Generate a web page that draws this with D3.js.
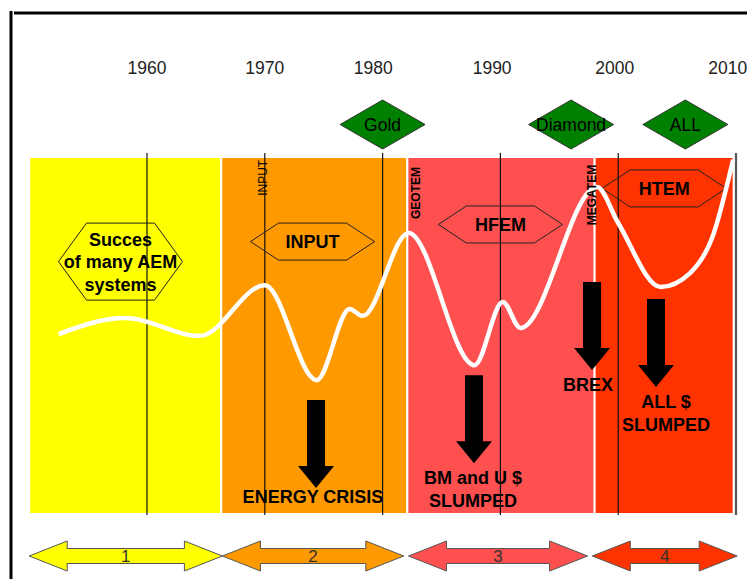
<!DOCTYPE html>
<html>
<head>
<meta charset="utf-8">
<script src="https://cdn.jsdelivr.net/npm/d3@7/dist/d3.min.js"></script>
<style>
  html, body { margin: 0; padding: 0; background: #fff; }
  svg { display: block; font-family: "Liberation Sans", Arial, sans-serif; }
</style>
</head>
<body>
<svg id="chart" width="747" height="579"></svg>
<script>
// ---------- DATA ----------
const decadeYears = [1960, 1970, 1980, 1990, 2000, 2010];
const tickLabels = ["1960", "1970", "1980", "1990", "2000", "2010"];
// where each year label sits on the time axis
const tickLabelYears = [1960.0, 1970.0, 1979.2, 1989.3, 1999.7, 2009.3];

// eras (background bands) : start / end years
const eraStarts = [1950, 1966.3, 1982.1, 1998.0];
const eraEnds   = [1966.3, 1982.1, 1998.0, 2009.8];
const eraColors = ["#FFFF00", "#FF9900", "#FF5050", "#FF3300"];

// bottom double arrows (eras)
const eraLabels = ["1", "2", "3", "4"];
const eraArrowStarts = [1950.0, 1966.4, 1982.2, 1997.8];
const eraArrowEnds   = [1966.4, 1981.8, 1997.4, 2010.1];

// activity curve (year, relative activity 0..100)
const curveYears  = [1952.5, 1958.1, 1964.5, 1970.0, 1974.4, 1977.2, 1978.3, 1982.2, 1987.8, 1990.2, 1991.7, 1998.2, 2000.0, 2003.6, 2006.1, 2008.0, 2009.75];
const curveValues = [50.4,   54.9,   49.9,   64.1,   37.5,   57.4,   55.5,   78.7,   41.7,   59.4,   52.1,   91.6,   81.5,   63.6,   67.5,   77.6,   99.2];

// commodity diamonds
const commodityNames = ["Gold", "Diamond", "ALL"];
const commodityYears = [1980.0, 1996.0, 2005.7];

// technology hexagons
const techLabels = [["Succes", "of many AEM", "systems"], ["INPUT"], ["HFEM"], ["HTEM"]];
const techYears  = [1957.75, 1974.05, 1990.0, 2003.9];
const techValues = [70.7, 76.3, 81.1, 91.2];

// system names (vertical)
const systemNames  = ["INPUT", "GEOTEM", "MEGATEM"];
const systemYears  = [1970.2, 1983.17, 1998.12];
const systemTops   = [99.2, 97.2, 97.8];
const systemBold   = [false, true, true];

// downturn arrows
const slumpYears = [1974.35, 1987.76, 1997.78, 2003.21];
const slumpTops  = [31.9, 38.9, 65.0, 60.2];
const slumpTexts = [["ENERGY CRISIS"], ["BM and U $", "SLUMPED"], ["BREX"], ["ALL $", "SLUMPED"]];
const slumpTextYears  = [1974.09, 1987.67, 1997.44, 2004.06];
const slumpTextValues = [4.8, 10.1, 36.4, 31.4];

// ---------- SCALES ----------
const svg = d3.select("#chart");
const x = d3.scaleLinear().domain([1960, 2010]).range([147, 736]);
const y = d3.scaleLinear().domain([0, 100]).range([514, 157]);

// ---------- FRAME ----------
svg.append("line").attr("x1", 11).attr("x2", 11).attr("y1", 11).attr("y2", 579)
  .attr("stroke", "#000").attr("stroke-width", 3);
svg.append("line").attr("x1", 14).attr("x2", 747).attr("y1", 13).attr("y2", 13)
  .attr("stroke", "#000").attr("stroke-width", 3);

// ---------- YEAR LABELS ----------
svg.append("g").selectAll("text").data(tickLabels).join("text")
  .attr("x", (d, i) => x(tickLabelYears[i])).attr("y", 74)
  .attr("text-anchor", "middle")
  .attr("font-size", 17.5).attr("fill", "#222")
  .text(d => d);

// ---------- BANDS ----------
svg.append("g").selectAll("rect").data(eraStarts).join("rect")
  .attr("x", (d) => x(d))
  .attr("y", y(100))
  .attr("width", (d, i) => x(eraEnds[i]) - x(d))
  .attr("height", y(0) - y(100))
  .attr("fill", (d, i) => eraColors[i])
  .attr("stroke", "#fff").attr("stroke-width", 2);

// ---------- DECADE LINES ----------
svg.append("g").selectAll("line").data(decadeYears).join("line")
  .attr("x1", d => x(d)).attr("x2", d => x(d))
  .attr("y1", 153).attr("y2", 515)
  .attr("stroke", (d, i) => i === decadeYears.length - 1 ? "#555" : "#111")
  .attr("stroke-width", (d, i) => i === decadeYears.length - 1 ? 2.2 : 1.2);

// ---------- DIAMONDS ----------
const dW = 42.5, dH = 24.5, dY = 124.5;
const dg = svg.append("g").selectAll("g").data(commodityNames).join("g")
  .attr("transform", (d, i) => `translate(${x(commodityYears[i])},${dY})`);
dg.append("path")
  .attr("d", `M${-dW},0L0,${-dH}L${dW},0L0,${dH}Z`)
  .attr("fill", "#008000").attr("stroke", "#333").attr("stroke-width", 1);
dg.append("text").attr("text-anchor", "middle").attr("dy", "0.36em")
  .attr("font-size", 17.5).attr("fill", "#000").text(d => d);

// ---------- HEXAGONS ----------
const hg = svg.append("g").selectAll("g").data(techLabels).join("g")
  .attr("transform", (d, i) => `translate(${x(techYears[i])},${y(techValues[i])})`);
hg.append("path")
  .attr("d", d => {
    const hw = 62, inset = 28, hh = (d.length * 20 + 17) / 2;
    return `M${-hw},0L${-hw + inset},${-hh}L${hw - inset},${-hh}L${hw},0L${hw - inset},${hh}L${-hw + inset},${hh}Z`;
  })
  .attr("fill", "none").attr("stroke", "#222").attr("stroke-width", 1);
hg.each(function(lines) {
  d3.select(this).selectAll("text").data(lines).join("text")
    .attr("text-anchor", "middle")
    .attr("y", (t, j) => (j - (lines.length - 1) / 2) * 22.5)
    .attr("dy", "0.36em")
    .attr("font-size", 18).attr("font-weight", "bold").attr("fill", "#000")
    .text(t => t);
});

// ---------- CURVE ----------
const line = d3.line()
  .x((d, i) => x(curveYears[i]))
  .y(d => y(d))
  .curve(d3.curveMonotoneX);
svg.append("path").datum(curveValues)
  .attr("d", line)
  .attr("fill", "none").attr("stroke", "#fff").attr("stroke-width", 4.5);

// ---------- SYSTEM NAMES (vertical) ----------
svg.append("g").selectAll("text").data(systemNames).join("text")
  .attr("transform", (d, i) => `translate(${x(systemYears[i])},${y(systemTops[i])}) rotate(-90)`)
  .attr("text-anchor", "end")
  .attr("font-size", 12)
  .attr("font-weight", (d, i) => systemBold[i] ? "bold" : "normal")
  .attr("fill", "#000")
  .text(d => d);

// ---------- SLUMP ARROWS ----------
const aLen = 88, shaftW = 9, headW = 18, headL = 22;
svg.append("g").selectAll("path").data(slumpYears).join("path")
  .attr("transform", (d, i) => `translate(${x(d)},${y(slumpTops[i])})`)
  .attr("d", `M${-shaftW},0L${shaftW},0L${shaftW},${aLen - headL}L${headW},${aLen - headL}L0,${aLen}L${-headW},${aLen - headL}L${-shaftW},${aLen - headL}Z`)
  .attr("fill", "#000");

const st = svg.append("g").selectAll("g").data(slumpTexts).join("g")
  .attr("transform", (d, i) => `translate(${x(slumpTextYears[i])},${y(slumpTextValues[i])})`);
st.each(function(lines) {
  d3.select(this).selectAll("text").data(lines).join("text")
    .attr("text-anchor", "middle")
    .attr("y", (t, j) => j * 22.5)
    .attr("dy", "0.36em")
    .attr("font-size", 18).attr("font-weight", "bold").attr("fill", "#000")
    .text(t => t);
});

// ---------- BOTTOM ERA ARROWS ----------
const bY = 556, bShaft = 7.5, bHead = 15, bHeadL = 38;
const bg = svg.append("g").selectAll("g").data(eraLabels).join("g");
bg.append("path")
  .attr("d", (d, i) => {
    const x0 = x(eraArrowStarts[i]), x1 = x(eraArrowEnds[i]);
    return `M${x0},${bY}L${x0 + bHeadL},${bY - bHead}L${x0 + bHeadL},${bY - bShaft}` +
           `L${x1 - bHeadL},${bY - bShaft}L${x1 - bHeadL},${bY - bHead}L${x1},${bY}` +
           `L${x1 - bHeadL},${bY + bHead}L${x1 - bHeadL},${bY + bShaft}L${x0 + bHeadL},${bY + bShaft}` +
           `L${x0 + bHeadL},${bY + bHead}Z`;
  })
  .attr("fill", (d, i) => eraColors[i])
  .attr("stroke", "#555").attr("stroke-width", 1);
bg.append("text")
  .attr("x", (d, i) => (x(eraArrowStarts[i]) + x(eraArrowEnds[i])) / 2)
  .attr("y", bY).attr("dy", "0.36em")
  .attr("text-anchor", "middle")
  .attr("font-size", 17).attr("fill", "#333")
  .text(d => d);
</script>
</body>
</html>
